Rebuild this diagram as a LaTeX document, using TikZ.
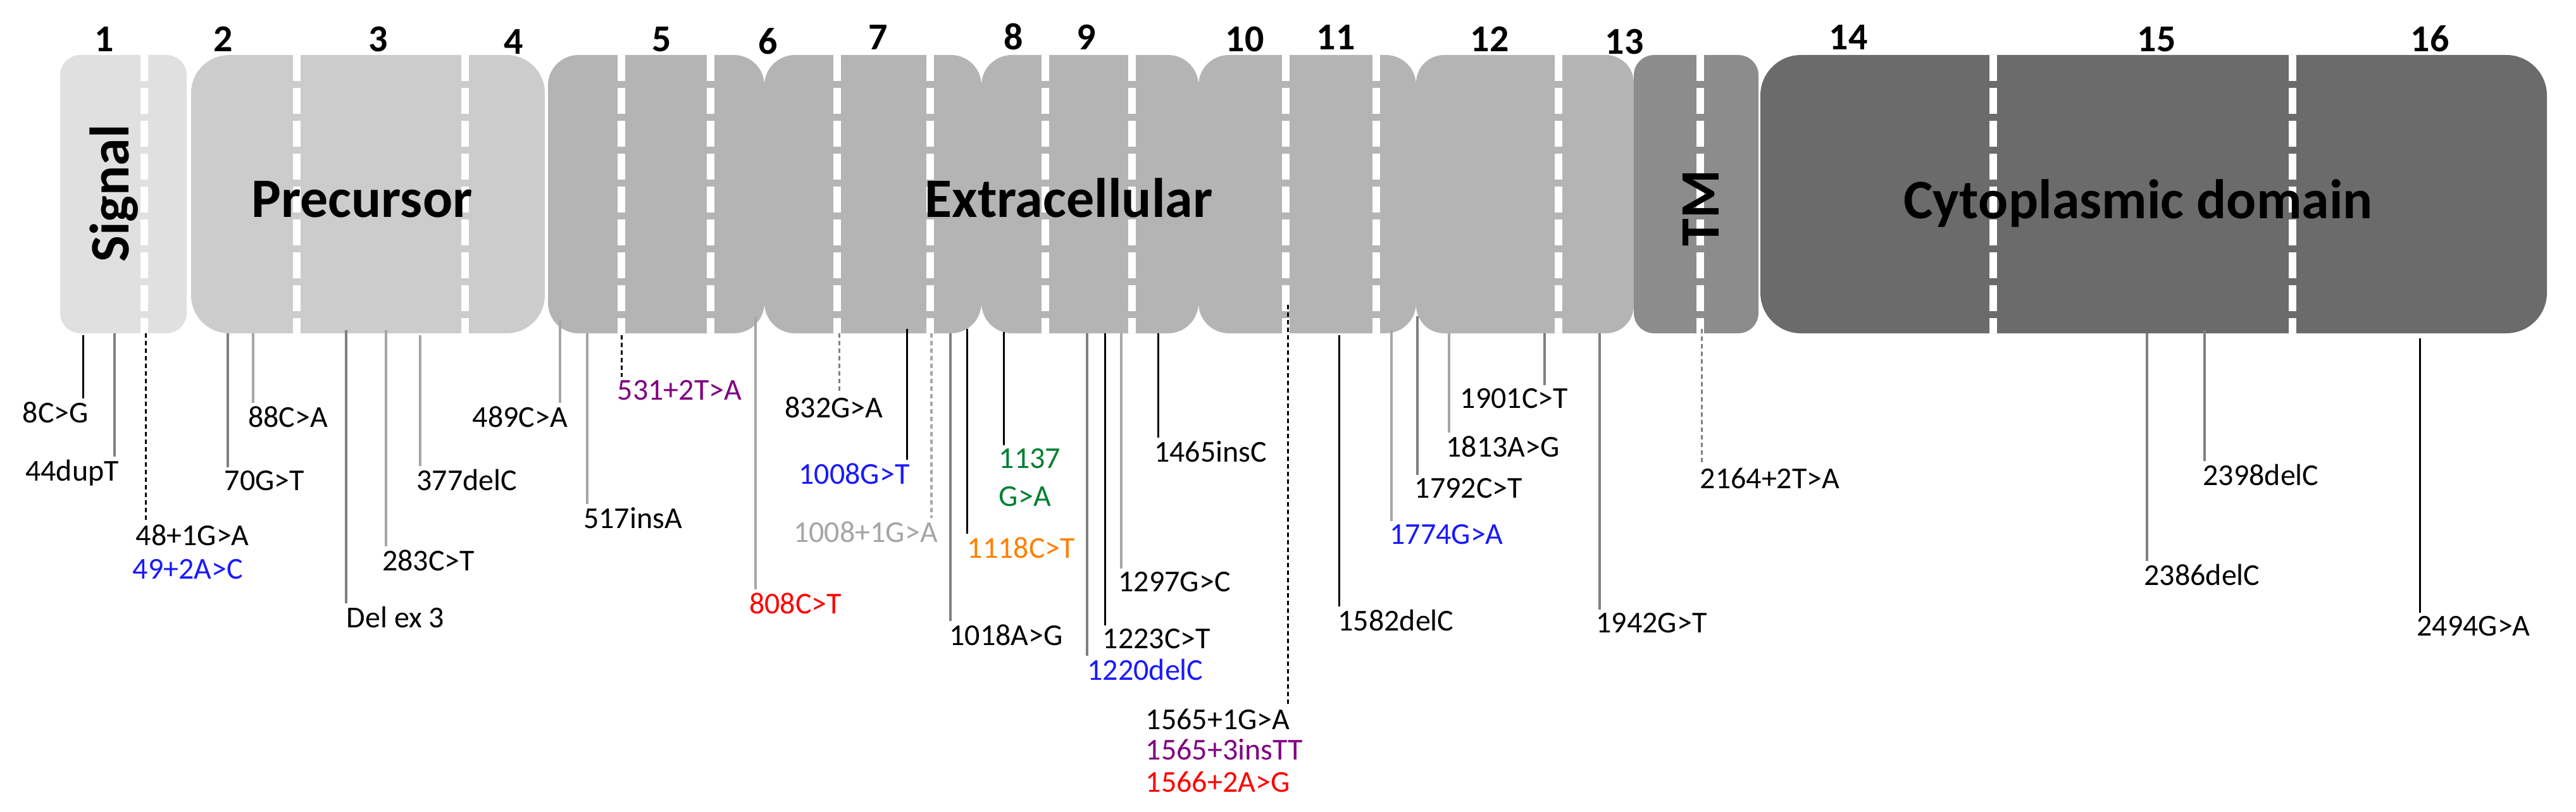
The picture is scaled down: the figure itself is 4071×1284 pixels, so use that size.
\documentclass[tikz,border=0pt]{standalone}
\usepackage{fontspec}
\setmainfont{Carlito}
\definecolor{cSig}{RGB}{224,224,224}
\definecolor{cPre}{RGB}{204,204,204}
\definecolor{cExt}{RGB}{180,180,180}
\definecolor{cTM}{RGB}{140,140,140}
\definecolor{cCyt}{RGB}{107,107,107}
\definecolor{gLight}{RGB}{166,166,166}
\definecolor{gDark}{RGB}{128,128,128}
\definecolor{tBlue}{RGB}{25,25,255}
\definecolor{tPurple}{RGB}{128,0,128}
\definecolor{tRed}{RGB}{255,0,0}
\definecolor{tOrange}{RGB}{255,128,0}
\definecolor{tGreen}{RGB}{0,128,50}
\definecolor{tGray}{RGB}{166,166,166}
\begin{document}
\begin{tikzpicture}[x=0.25pt,y=-0.25pt,
  lab/.style={font=\fontsize{12}{14}\selectfont, inner sep=0pt, outer ysep=1.2pt, anchor=base},
  labw/.style={lab, anchor=base west},
  num/.style={font=\bfseries\fontsize{15}{18}\selectfont, inner sep=0pt, anchor=base},
  dom/.style={font=\bfseries\fontsize{22}{26}\selectfont, inner sep=0pt, anchor=base},
  sepline/.style={white, line width=3pt, dash pattern=on 10.25pt off 2.75pt},
  mk/.style={black, line width=0.75pt},
  mkg/.style={gLight, line width=1.15pt},
  mkd/.style={gDark, line width=0.8pt},
  mkdash/.style={black, line width=0.75pt, dash pattern=on 1.75pt off 1.25pt},
  mkgdash/.style={gDark, line width=0.75pt, dash pattern=on 1.75pt off 1.25pt},
  mklgdash/.style={gLight, line width=0.9pt, dash pattern=on 1.75pt off 1.25pt}
]
\useasboundingbox (0,0) rectangle (4071,1284);

% ---- exon blocks ----
\fill[cSig, rounded corners=8pt] (95,87) rectangle (295,527);
\fill[cPre, rounded corners=15pt] (302,87) rectangle (861,527);
\fill[cExt, rounded corners=12pt] (866,87) rectangle (1208,527);
\fill[cExt, rounded corners=12pt] (1208,87) rectangle (1551,527);
\fill[cExt, rounded corners=12pt] (1551,87) rectangle (1894,527);
\fill[cExt, rounded corners=12pt] (1894,87) rectangle (2238,527);
\fill[cExt, rounded corners=11pt] (2238,87) rectangle (2582,527);
\fill[cTM, rounded corners=8pt] (2582,87) rectangle (2779,527);
\fill[cCyt, rounded corners=16pt] (2782,87) rectangle (4025,527);

% ---- exon boundaries (white dashed) ----
\foreach \xx in {228,469,735,982,1123,1323,1470,1652,1789,2032,2175,2463,2687,3150,3623}
  \draw[sepline] (\xx,87) -- (\xx,527);

% ---- domain labels ----
\node[dom, rotate=90] (dSig) at (203,306) {Signal};
\node[dom] (dPre) at (572,343) {Precursor};
\node[dom] (dExt) at (1689,343) {Extracellular};
\node[dom, rotate=90] (dTM) at (2716,329) {TM};
\node[dom] (dCyt) at (3379,345) {Cytoplasmic domain};

% ---- exon numbers ----
\node[num] (n1) at (165,82) {1};
\node[num] (n2) at (353,82) {2};
\node[num] (n3) at (598,82) {3};
\node[num] (n4) at (812,86) {4};
\node[num] (n5) at (1046,82) {5};
\node[num] (n6) at (1214,86) {6};
\node[num] (n7) at (1388,79) {7};
\node[num] (n8) at (1602,79) {8};
\node[num] (n9) at (1717,79) {9};
\node[num] (n10) at (1967,82) {10};
\node[num] (n11) at (2111,79) {11};
\node[num] (n12) at (2354,82) {12};
\node[num] (n13) at (2567,86) {13};
\node[num] (n14) at (2921,79) {14};
\node[num] (n15) at (3408,82) {15};
\node[num] (n16) at (3840,82) {16};

% ---- mutation labels ----
\node[lab] (l1) at (88,668) {8C>G};
\node[lab] (l2) at (114,760) {44dupT};
\node[labw] (l3a) at (214,862) {48+1G>A};
\node[labw, text=tBlue] (l3b) at (209,915) {49+2A>C};
\node[lab] (l4) at (418,775) {70G>T};
\node[lab] (l5) at (455,675) {88C>A};
\node[lab] (l6) at (625,992) {Del ex 3};
\node[lab] (l7) at (677,902) {283C>T};
\node[lab] (l8) at (738,775) {377delC};
\node[lab] (l9) at (822,675) {489C>A};
\node[lab] (l10) at (1000,835) {517insA};
\node[lab, text=tPurple] (l11) at (1074,632) {531+2T>A};
\node[lab, text=tRed] (l12) at (1257,970) {808C>T};
\node[lab] (l13) at (1318,660) {832G>A};
\node[lab, text=tBlue] (l14) at (1350,765) {1008G>T};
\node[lab, text=tGray] (l15) at (1368,857) {1008+1G>A};
\node[lab] (l16) at (1590,1020) {1018A>G};
\node[lab, text=tOrange] (l17) at (1614,882) {1118C>T};
\node[labw, text=tGreen] (l18a) at (1578,740) {1137};
\node[labw, text=tGreen] (l18b) at (1578,800) {G>A};
\node[lab, text=tBlue] (l19) at (1810,1075) {1220delC};
\node[lab] (l20) at (1828,1025) {1223C>T};
\node[lab] (l21) at (1856,935) {1297G>C};
\node[lab] (l22) at (1913,730) {1465insC};
\node[labw] (l23a) at (1810,1153) {1565+1G>A};
\node[labw, text=tPurple] (l23b) at (1810,1201) {1565+3insTT};
\node[labw, text=tRed] (l23c) at (1810,1252) {1566+2A>G};
\node[lab] (l24) at (2206,997) {1582delC};
\node[lab, text=tBlue] (l25) at (2286,860) {1774G>A};
\node[lab] (l26) at (2321,787) {1792C>T};
\node[lab] (l27) at (2375,722) {1813A>G};
\node[lab] (l28) at (2393,645) {1901C>T};
\node[lab] (l29) at (2610,1000) {1942G>T};
\node[lab] (l30) at (2797,772) {2164+2T>A};
\node[lab] (l31) at (3480,925) {2386delC};
\node[lab] (l32) at (3573,767) {2398delC};
\node[lab] (l33) at (3909,1005) {2494G>A};

% ---- mutation sites on the band ----
\coordinate (t1) at (131,530);
\coordinate (t2) at (181,527);
\coordinate (t3) at (230,527);
\coordinate (t4) at (360,527);
\coordinate (t5) at (400,527);
\coordinate (t6) at (547,522);
\coordinate (t7) at (610,522);
\coordinate (t8) at (664,530);
\coordinate (t9) at (885,507);
\coordinate (t10) at (928,527);
\coordinate (t11) at (982,530);
\coordinate (t12) at (1194,500);
\coordinate (t13) at (1326,527);
\coordinate (t14) at (1433,520);
\coordinate (t15) at (1472,527);
\coordinate (t16) at (1502,527);
\coordinate (t17) at (1528,520);
\coordinate (t18) at (1586,525);
\coordinate (t19) at (1718,527);
\coordinate (t20) at (1746,527);
\coordinate (t21) at (1772,527);
\coordinate (t22) at (1830,527);
\coordinate (t23) at (2035,482);
\coordinate (t24) at (2116,530);
\coordinate (t25) at (2199,522);
\coordinate (t26) at (2240,500);
\coordinate (t27) at (2290,527);
\coordinate (t28) at (2441,527);
\coordinate (t29) at (2528,527);
\coordinate (t30) at (2689,520);
\coordinate (t31) at (3393,527);
\coordinate (t32) at (3484,522);
\coordinate (t33) at (3824,535);

% ---- connectors ----
\draw[mk] (t1) -- (t1 |- l1.north);
\draw[mkd] (t2) -- (t2 |- l2.north);
\draw[mkdash] (t3) -- (t3 |- l3a.north);
\draw[mkd] (t4) -- (t4 |- l4.north);
\draw[mkg] (t5) -- (t5 |- l5.north);
\draw[mkd] (t6) -- (t6 |- l6.north);
\draw[mkg] (t7) -- (t7 |- l7.north);
\draw[mkg] (t8) -- (t8 |- l8.north);
\draw[mkg] (t9) -- (t9 |- l9.north);
\draw[mkg] (t10) -- (t10 |- l10.north);
\draw[mkdash] (t11) -- (t11 |- l11.north);
\draw[mkg] (t12) -- (t12 |- l12.north);
\draw[mkgdash] (t13) -- (t13 |- l13.north);
\draw[mk] (t14) -- (t14 |- l14.north);
\draw[mklgdash] (t15) -- (t15 |- l15.north);
\draw[mkd] (t16) -- (t16 |- l16.north);
\draw[mk] (t17) -- (t17 |- l17.north);
\draw[mk] (t18) -- (t18 |- l18a.north);
\draw[mkd] (t19) -- (t19 |- l19.north);
\draw[mk] (t20) -- (t20 |- l20.north);
\draw[mkg] (t21) -- (t21 |- l21.north);
\draw[mk] (t22) -- (t22 |- l22.north);
\draw[mkdash] (t23) -- (t23 |- l23a.north);
\draw[mk] (t24) -- (t24 |- l24.north);
\draw[mkg] (t25) -- (t25 |- l25.north);
\draw[mkd] (t26) -- (t26 |- l26.north);
\draw[mkg] (t27) -- (t27 |- l27.north);
\draw[mkd] (t28) -- (t28 |- l28.north);
\draw[mkd] (t29) -- (t29 |- l29.north);
\draw[mkgdash] (t30) -- (t30 |- l30.north);
\draw[mkd] (t31) -- (t31 |- l31.north);
\draw[mkd] (t32) -- (t32 |- l32.north);
\draw[mk] (t33) -- (t33 |- l33.north);
\end{tikzpicture}
\end{document}
